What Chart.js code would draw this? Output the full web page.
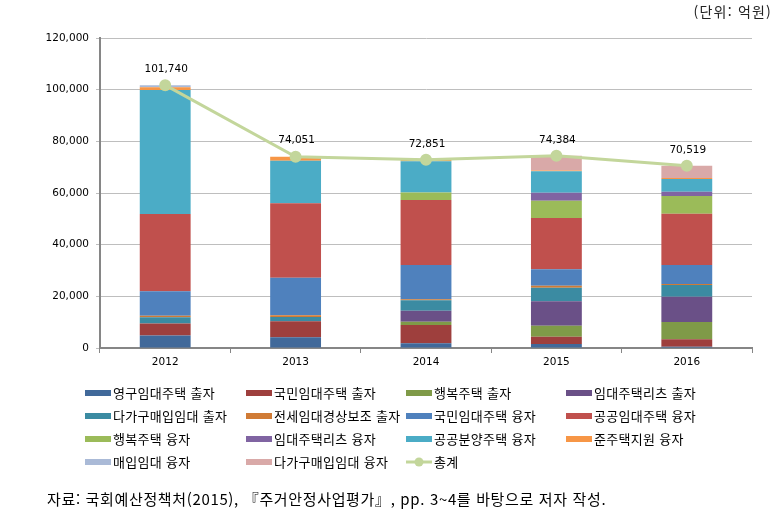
<!DOCTYPE html>
<html lang="ko">
<head>
<meta charset="utf-8">
<script src="https://cdn.jsdelivr.net/npm/chart.js@4.4.1/dist/chart.umd.min.js"></script>
<style>
  body { margin: 0; background: #fff; font-family: "Noto Sans CJK KR", sans-serif; }
  #page { position: relative; width: 775px; height: 519px; overflow: hidden; }
  #chart { position: absolute; left: 0; top: 0; }
  .unit { position: absolute; right: 3px; top: 1px; font-size: 14px; letter-spacing: 1.2px; color: #222; }
  .item { position: absolute; height: 22px; line-height: 22px; font-size: 13px; letter-spacing: 0.3px; color: #000; white-space: nowrap; }
  .swatch { position: absolute; left: 0; top: 8px; width: 26px; height: 6px; }
  .txt { position: absolute; left: 28px; top: 0; }
  .caption { position: absolute; left: 47px; top: 488px; font-size: 15px; letter-spacing: 0.65px; color: #000; }
</style>
</head>
<body>
<div id="page">
  <canvas id="chart" width="775" height="519"></canvas>
  <div class="unit">(단위: 억원)</div>
  <div id="legend"></div>
  <div class="caption">자료: 국회예산정책처(2015), 『주거안정사업평가』, pp. 3~4를 바탕으로 저자 작성.</div>
</div>
<script>
// categories
const years = ["2012", "2013", "2014", "2015", "2016"];

// series values (억원)
const permRentInvest   = [4800, 4130, 1810, 1550, 500];      // 영구임대주택 출자
const natRentInvest    = [4700, 6190, 7100, 2840, 2840];     // 국민임대주택 출자
const happyInvest      = [0, 0, 1290, 4260, 6710];           // 행복주택 출자
const reitsInvest      = [0, 0, 4260, 9420, 9810];           // 임대주택리츠 출자
const multiBuyInvest   = [2450, 1680, 4000, 5290, 4520];     // 다가구매입임대 출자
const jeonseSubsidy    = [500, 700, 400, 770, 400];          // 전세임대경상보조 출자
const natRentLoan      = [9550, 14450, 13290, 6320, 7350];   // 국민임대주택 융자
const publicRentLoan   = [29900, 28900, 25160, 19864, 19870];// 공공임대주택 융자
const happyLoan        = [0, 0, 2840, 6710, 6840];           // 행복주택 융자
const reitsLoan        = [0, 0, 0, 3100, 1680];              // 임대주택리츠 융자
const publicSaleLoan   = [48000, 16451, 12100, 8260, 4900];  // 공공분양주택 융자
const quasiHousingLoan = [1000, 1550, 600, 300, 400];        // 준주택지원 융자
const buyRentLoan      = [840, 0, 0, 0, 0];                  // 매입임대 융자
const multiBuyLoan     = [0, 0, 0, 5700, 4699];              // 다가구매입임대 융자
const totals           = [101740, 74051, 72851, 74384, 70519]; // 총계

// y axis ticks
const yTicks = [0, 20000, 40000, 60000, 80000, 100000, 120000];

const barSeries = [
  { label: "영구임대주택 출자", data: permRentInvest, color: "#41699A" },
  { label: "국민임대주택 출자", data: natRentInvest, color: "#9E3F3D" },
  { label: "행복주택 출자", data: happyInvest, color: "#7F9A48" },
  { label: "임대주택리츠 출자", data: reitsInvest, color: "#6A5087" },
  { label: "다가구매입임대 출자", data: multiBuyInvest, color: "#3B8BA2" },
  { label: "전세임대경상보조 출자", data: jeonseSubsidy, color: "#D07B35" },
  { label: "국민임대주택 융자", data: natRentLoan, color: "#4F81BD" },
  { label: "공공임대주택 융자", data: publicRentLoan, color: "#C0504D" },
  { label: "행복주택 융자", data: happyLoan, color: "#9BBB59" },
  { label: "임대주택리츠 융자", data: reitsLoan, color: "#8064A2" },
  { label: "공공분양주택 융자", data: publicSaleLoan, color: "#4BACC6" },
  { label: "준주택지원 융자", data: quasiHousingLoan, color: "#F79646" },
  { label: "매입임대 융자", data: buyRentLoan, color: "#AABAD7" },
  { label: "다가구매입임대 융자", data: multiBuyLoan, color: "#D9A9A8" }
];
const lineColor = "#C3D69B";
const numFont = "DejaVu Sans";

const datasets = barSeries.map(s => ({
  type: "bar",
  label: s.label,
  data: s.data,
  backgroundColor: s.color,
  borderWidth: 0,
  stack: "bars",
  order: 1,
  categoryPercentage: 1,
  barPercentage: 0.39
}));
datasets.push({
  type: "line",
  label: "총계",
  data: totals,
  stack: "total",
  order: 0,
  borderColor: lineColor,
  borderWidth: 3,
  pointRadius: 4.5,
  pointBackgroundColor: lineColor,
  pointBorderColor: lineColor,
  tension: 0
});

// numbers above the total line
const totalLabels = {
  id: "totalLabels",
  afterDatasetsDraw(chart) {
    const idx = chart.data.datasets.length - 1;
    const meta = chart.getDatasetMeta(idx);
    const ctx = chart.ctx;
    ctx.save();
    ctx.font = "10.5px '" + numFont + "'";
    ctx.fillStyle = "#000";
    ctx.textAlign = "center";
    ctx.textBaseline = "middle";
    meta.data.forEach((pt, i) => {
      ctx.fillText(totals[i].toLocaleString("en-US"), pt.x + 1, pt.y - 16);
    });
    ctx.restore();
  }
};

const chart = new Chart(document.getElementById("chart").getContext("2d"), {
  type: "bar",
  data: { labels: years, datasets: datasets },
  options: {
    responsive: false,
    animation: false,
    layout: { padding: { top: 38, right: 23, bottom: 141, left: 0 } },
    plugins: { legend: { display: false }, tooltip: { enabled: false } },
    scales: {
      x: {
        stacked: true,
        grid: { offset: true, drawOnChartArea: false, color: "#868686", tickLength: 5 },
        border: { color: "#868686", width: 2 },
        ticks: { color: "#000", padding: 3, font: { family: numFont, size: 10.5 } },
        afterFit: s => { s.height = 30; }
      },
      y: {
        stacked: true,
        min: yTicks[0],
        max: yTicks[yTicks.length - 1],
        afterBuildTicks: s => { s.ticks = yTicks.map(v => ({ value: v })); },
        grid: { color: "#BEBEBE", tickLength: 4 },
        border: { color: "#868686", width: 2 },
        ticks: {
          color: "#000",
          padding: 7,
          font: { family: numFont, size: 10.5 },
          callback: v => v.toLocaleString("en-US")
        },
        afterFit: s => { s.width = 100; }
      }
    }
  },
  plugins: [totalLabels]
});

// legend laid out in 4 columns like the original
const colX = [85, 246, 406, 566];
const rowY = [382, 404.5, 427.5, 450.5];
const legendEl = document.getElementById("legend");
chart.data.datasets.forEach((ds, i) => {
  const item = document.createElement("div");
  item.className = "item";
  item.style.left = colX[i % 4] + "px";
  item.style.top = rowY[Math.floor(i / 4)] + "px";
  if (ds.type === "line") {
    item.innerHTML =
      '<svg width="26" height="22" style="position:absolute;left:0;top:0">' +
      '<line x1="0" y1="11" x2="26" y2="11" stroke="' + lineColor + '" stroke-width="3"/>' +
      '<circle cx="13" cy="11" r="4.5" fill="' + lineColor + '"/></svg>';
  } else {
    item.innerHTML = '<span class="swatch" style="background:' + ds.backgroundColor + '"></span>';
  }
  const t = document.createElement("span");
  t.className = "txt";
  t.textContent = ds.label;
  item.appendChild(t);
  legendEl.appendChild(item);
});
</script>
</body>
</html>
